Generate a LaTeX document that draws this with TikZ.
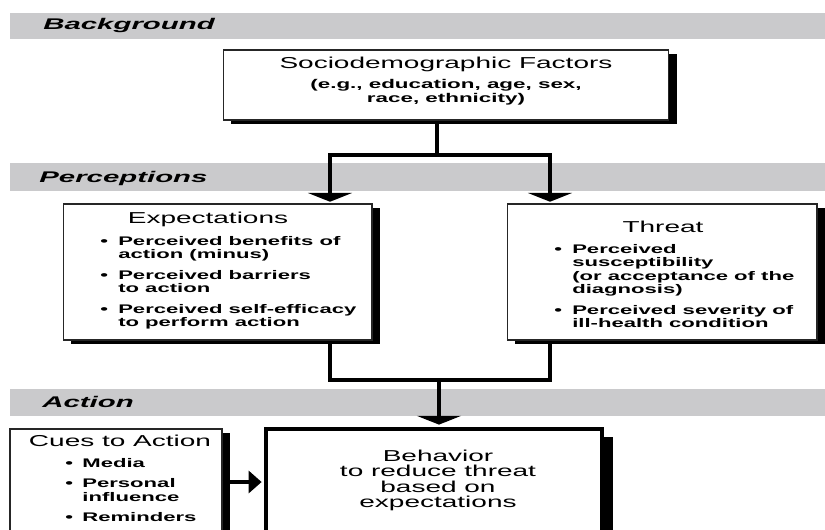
\documentclass[tikz,border=0pt]{standalone}
\usepackage{fontspec}
\setmainfont{Liberation Sans}[FakeStretch=1.77]
\newfontfamily\bandfont{Liberation Sans}[FakeStretch=1.9]
\usetikzlibrary{arrows.meta,shadows}

\definecolor{bandgray}{RGB}{202,202,204}

\tikzset{
  box/.style={draw=black!85, line width=0.6pt, fill=white, inner sep=0pt,
    drop shadow={shadow xshift=4.3pt, shadow yshift=-2.3pt, fill=black, opacity=1}},
  bigbox/.style={draw=black, line width=2pt, fill=white, inner sep=0pt,
    drop shadow={shadow xshift=6pt, shadow yshift=-4.5pt, fill=black, opacity=1}},
  titletext/.style={inner sep=0pt, font=\fontsize{9}{7.8}\selectfont},
  subtext/.style={inner sep=0pt, font=\fontsize{7.2}{8}\selectfont\bfseries},
  listtext/.style={inner sep=0pt, font=\fontsize{7.1}{7.7}\selectfont\bfseries},
  bandlabel/.style={inner sep=0pt, font=\bandfont\fontsize{8.8}{10}\selectfont\bfseries\itshape},
  link/.style={line width=2pt, draw=black},
  vtip/.tip={Triangle[width=25pt,length=5pt]},
  htip/.tip={Triangle[width=12.5pt,length=7.4pt]}
}

\begin{document}
\begin{tikzpicture}[x=0.02cm, y=-0.02cm]
\useasboundingbox (0,0) rectangle (825,529);
\clip (0,0) rectangle (825,529);
% bands
\fill[bandgray] (10,13) rectangle (825,39);
\fill[bandgray] (10,163) rectangle (825,191);
\fill[bandgray] (10,389) rectangle (825,416);
\node[bandlabel, anchor=base west] (bgl) at (43,29) {Background};
\node[bandlabel, anchor=base west] (pcl) at (39,182) {Perceptions};
\node[bandlabel, anchor=base west] (acl) at (42,407) {Action};
% boxes
\node[box, minimum width=8.92cm, minimum height=1.4cm] (socio) at (446,85) {};
\node[box, minimum width=6.18cm, minimum height=2.72cm] (expect) at (217.5,272) {};
\node[box, minimum width=6.2cm, minimum height=2.72cm] (threat) at (662,272) {};
\node[box, minimum width=4.24cm, minimum height=2.62cm] (cues) at (116,494.5) {};
\node[bigbox, minimum width=6.72cm, minimum height=2.62cm] (behav) at (434,494.5) {};
% background
\node[titletext, anchor=base] (sociot) at (446,68) {Sociodemographic Factors};
\node[subtext, anchor=base] (socios) at (446,88) {\begin{tabular}[t]{@{}c@{}}(e.g., education, age, sex,\\ race, ethnicity)\end{tabular}};
% perceptions
\node[titletext, anchor=base] (expectt) at (208,223) {Expectations};
\node[listtext, anchor=base west] (expectl) at (100,245) {\begin{tabular}[t]{@{}l@{\hspace{5.8pt}}l@{}}
\textbullet & Perceived benefits of\\
 & action (minus)\\[4pt]
\textbullet & Perceived barriers\\
 & to action\\[4pt]
\textbullet & Perceived self-efficacy\\
 & to perform action
\end{tabular}};
\node[titletext, anchor=base] (threatt) at (663,232) {Threat};
\node[listtext, anchor=base west] (threatl) at (554,253) {\begin{tabular}[t]{@{}l@{\hspace{5.8pt}}l@{}}
\textbullet & Perceived\\
 & susceptibility\\
 & (or acceptance of the\\
 & diagnosis)\\[4pt]
\textbullet & Perceived severity of\\
 & ill-health condition
\end{tabular}};
% action
\node[titletext, anchor=base] (cuest) at (120,446) {Cues to Action};
\node[listtext, anchor=base west] (cuesl) at (65,467) {\begin{tabular}[t]{@{}l@{\hspace{5.3pt}}l@{}}
\textbullet & Media\\[4pt]
\textbullet & Personal\\
 & influence\\[4pt]
\textbullet & Reminders
\end{tabular}};
\node[titletext, anchor=base] (behavt) at (438,461) {\begin{tabular}[t]{@{}c@{}}Behavior\\ to reduce threat\\ based on\\ expectations\end{tabular}};
% connectors
\coordinate (split) at (437,155);
\coordinate (lt) at (330,155);
\coordinate (rt) at (550,155);
\draw[link] (socio.south -| split) -- (split);
\draw[link, vtip-vtip, shorten <=1pt, shorten >=1pt] (lt |- expect.north) -- (lt) -- (rt) -- (rt |- threat.north);
\coordinate (lb) at (330,380);
\coordinate (rb) at (550,380);
\coordinate (join) at (439,380);
\draw[link] (lt |- expect.south) -- (lb) -- (rb) -- (rt |- threat.south);
\draw[link, -vtip, shorten >=1.5pt] (join) -- (join |- behav.north);
\coordinate (cuelevel) at (0,482);
\draw[link, -htip, shorten >=1.5pt] (cues.east |- cuelevel) -- (behav.west |- cuelevel);
\end{tikzpicture}
\end{document}
